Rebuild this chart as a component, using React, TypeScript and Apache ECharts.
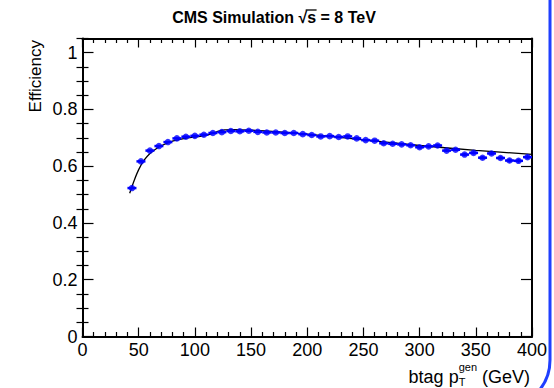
import React, { useEffect, useRef } from "react";
import * as echarts from "echarts";

// ---- data ----
const ptCenters = [44, 52, 60, 68, 76, 84, 92, 100, 108, 116, 124, 132, 140, 148, 156, 164, 172, 180, 188, 196, 204, 212, 220, 228, 236, 244, 252, 260, 268, 276, 284, 292, 300, 308, 316, 324, 332, 340, 348, 356, 364, 372, 380, 388, 396];
const efficiency = [0.523, 0.617, 0.655, 0.671, 0.685, 0.698, 0.704, 0.707, 0.711, 0.717, 0.720, 0.724, 0.723, 0.725, 0.721, 0.719, 0.719, 0.717, 0.717, 0.713, 0.710, 0.705, 0.706, 0.703, 0.705, 0.698, 0.692, 0.690, 0.681, 0.679, 0.677, 0.674, 0.667, 0.670, 0.673, 0.655, 0.658, 0.641, 0.647, 0.630, 0.645, 0.629, 0.620, 0.619, 0.632];
const efficiencyErr = [0.004, 0.004, 0.003, 0.003, 0.003, 0.003, 0.003, 0.003, 0.003, 0.003, 0.003, 0.003, 0.003, 0.003, 0.003, 0.003, 0.003, 0.003, 0.003, 0.003, 0.003, 0.003, 0.003, 0.003, 0.004, 0.004, 0.004, 0.004, 0.004, 0.004, 0.004, 0.005, 0.005, 0.005, 0.005, 0.005, 0.005, 0.006, 0.006, 0.006, 0.006, 0.006, 0.007, 0.007, 0.007];
const binHalfWidth = 4;

const fitX = [42, 46, 50, 55, 60, 65, 70, 80, 90, 100, 108, 114, 120, 126, 135, 150, 175, 200, 250, 300, 350, 400];
const fitY = [0.505, 0.55, 0.588, 0.622, 0.645, 0.66, 0.672, 0.688, 0.697, 0.703, 0.707, 0.713, 0.722, 0.728, 0.729, 0.727, 0.721, 0.713, 0.693, 0.673, 0.656, 0.642];

const yMajorTicks = [0, 0.2, 0.4, 0.6, 0.8, 1.0];
const yMinorTicks = [0.05, 0.1, 0.15, 0.25, 0.3, 0.35, 0.45, 0.5, 0.55, 0.65, 0.7, 0.75, 0.85, 0.9, 0.95, 1.05];

const titleText = "CMS Simulation \u221As = 8 TeV";
const yTitle = "Efficiency";

const FONT = "'Liberation Sans', Arial, Helvetica, sans-serif";
const BLUE = "#0000ff";

function measure(text: string, font: string): number {
  const c = document.createElement("canvas").getContext("2d");
  if (!c) return text.length * 8;
  c.font = font;
  return c.measureText(text).width;
}

export default function App() {
  const ref = useRef<HTMLDivElement>(null);
  useEffect(() => {
    if (!ref.current) return;
    const chart = echarts.init(ref.current, undefined, { renderer: "svg" });

    // title geometry
    const titleFont = `bold 16px ${FONT}`;
    const titleCx = 274;
    const titleY = 17;
    const wFull = measure(titleText, titleFont);
    const tStart = titleCx - wFull / 2;
    const wPre = measure("CMS Simulation \u221A", titleFont);
    const wS = measure("s", titleFont);

    // x title geometry (right aligned)
    const xtRight = 530;
    const mainFont = `18px ${FONT}`;
    const supFont = `11px ${FONT}`;
    const wTail = measure(" (GeV)", mainFont);
    const wGen = measure("gen", supFont);
    const genX = xtRight - wTail - wGen;

    const errData = ptCenters.map((x, i) => [x, efficiency[i], binHalfWidth, efficiencyErr[i]]);

    const majorTickY = (pos: "left" | "right", labels: boolean) => ({
      type: "value",
      position: pos,
      min: 0,
      max: 1.05,
      axisLine: { show: true, onZero: false, lineStyle: { color: "#000", width: 2 } },
      axisTick: { show: true, inside: true, length: 11, customValues: yMajorTicks, lineStyle: { color: "#000", width: 1.2 } },
      axisLabel: labels
        ? { show: true, customValues: yMajorTicks, color: "#000", fontSize: 18, fontFamily: FONT, margin: 5 }
        : { show: false },
      splitLine: { show: false },
    });
    const minorTickY = (pos: "left" | "right") => ({
      type: "value",
      position: pos,
      min: 0,
      max: 1.05,
      axisLine: { show: false },
      axisTick: { show: true, inside: true, length: 6, customValues: yMinorTicks, lineStyle: { color: "#000", width: 1.2 } },
      axisLabel: { show: false },
      splitLine: { show: false },
    });
    const xAxisDef = (pos: "bottom" | "top", labels: boolean) => ({
      type: "value",
      position: pos,
      min: 0,
      max: 400,
      interval: 50,
      axisLine: { show: true, onZero: false, lineStyle: { color: "#000", width: 2 } },
      axisTick: { show: true, inside: true, length: 9, lineStyle: { color: "#000", width: 1.2 } },
      minorTick: { show: true, splitNumber: 5, length: 4.5, lineStyle: { color: "#000", width: 1.2 } },
      axisLabel: labels
        ? { show: true, color: "#000", fontSize: 18, fontFamily: FONT, margin: 4 }
        : { show: false },
      splitLine: { show: false },
    });

    chart.setOption({
      animation: false,
      backgroundColor: "#fff",
      grid: { left: 82.5, right: 22, top: 38.5, bottom: 51.5, containLabel: false },
      xAxis: [xAxisDef("bottom", true), xAxisDef("top", false)],
      yAxis: [majorTickY("left", true), minorTickY("left"), majorTickY("right", false), minorTickY("right")],
      series: [
        {
          type: "line",
          name: "fit",
          xAxisIndex: 0,
          yAxisIndex: 0,
          data: fitX.map((x, i) => [x, fitY[i]]),
          showSymbol: false,
          smooth: 0.3,
          lineStyle: { color: "#000", width: 1.3 },
          z: 3,
        },
        {
          type: "custom",
          name: "errors",
          xAxisIndex: 0,
          yAxisIndex: 0,
          data: errData,
          renderItem: (_params: any, api: any) => {
            const x = api.value(0);
            const y = api.value(1);
            const ex = api.value(2);
            const ey = api.value(3);
            const l = api.coord([x - ex, y]);
            const r = api.coord([x + ex, y]);
            const b = api.coord([x, y - ey]);
            const t = api.coord([x, y + ey]);
            return {
              type: "group",
              children: [
                { type: "line", shape: { x1: l[0], y1: l[1], x2: r[0], y2: r[1] }, style: { stroke: BLUE, lineWidth: 2.5 } },
                { type: "line", shape: { x1: b[0], y1: b[1], x2: t[0], y2: t[1] }, style: { stroke: BLUE, lineWidth: 2 } },
              ],
            };
          },
          z: 4,
        },
        {
          type: "scatter",
          name: "efficiency",
          xAxisIndex: 0,
          yAxisIndex: 0,
          data: ptCenters.map((x, i) => [x, efficiency[i]]),
          symbol: "circle",
          symbolSize: 6.5,
          itemStyle: { color: BLUE },
          z: 5,
        },
      ],
      graphic: [
        {
          type: "text",
          x: titleCx,
          y: titleY,
          style: { text: titleText, font: titleFont, fill: "#000", textAlign: "center", textVerticalAlign: "middle" },
        },
        {
          type: "line",
          shape: { x1: tStart + wPre - 1.5, y1: 10, x2: tStart + wPre + wS + 0.5, y2: 10 },
          style: { stroke: "#000", lineWidth: 1.3 },
        },
        {
          type: "text",
          x: 35,
          y: 40,
          rotation: Math.PI / 2,
          style: { text: yTitle, font: `17px ${FONT}`, fill: "#000", textAlign: "right", textVerticalAlign: "middle" },
        },
        {
          type: "text",
          x: xtRight,
          y: 376.5,
          style: { text: " (GeV)", font: mainFont, fill: "#000", textAlign: "right", textVerticalAlign: "middle" },
        },
        {
          type: "text",
          x: genX,
          y: 367,
          style: { text: "gen", font: supFont, fill: "#000", textAlign: "left", textVerticalAlign: "middle" },
        },
        {
          type: "text",
          x: genX,
          y: 381.5,
          style: { text: "T", font: supFont, fill: "#000", textAlign: "left", textVerticalAlign: "middle" },
        },
        {
          type: "text",
          x: genX,
          y: 376.5,
          style: { text: "btag p", font: mainFont, fill: "#000", textAlign: "right", textVerticalAlign: "middle" },
        },
        {
          type: "rect",
          shape: { x: -400, y: -100, width: 950, height: 508, r: 48 },
          style: { fill: "none", stroke: "#1f3fff", lineWidth: 3 },
          z: 0,
        },
      ],
    });
    return () => chart.dispose();
  }, []);
  return <div ref={ref} style={{ width: 554, height: 388, position: "absolute", left: 0, top: 0 }} />;
}
